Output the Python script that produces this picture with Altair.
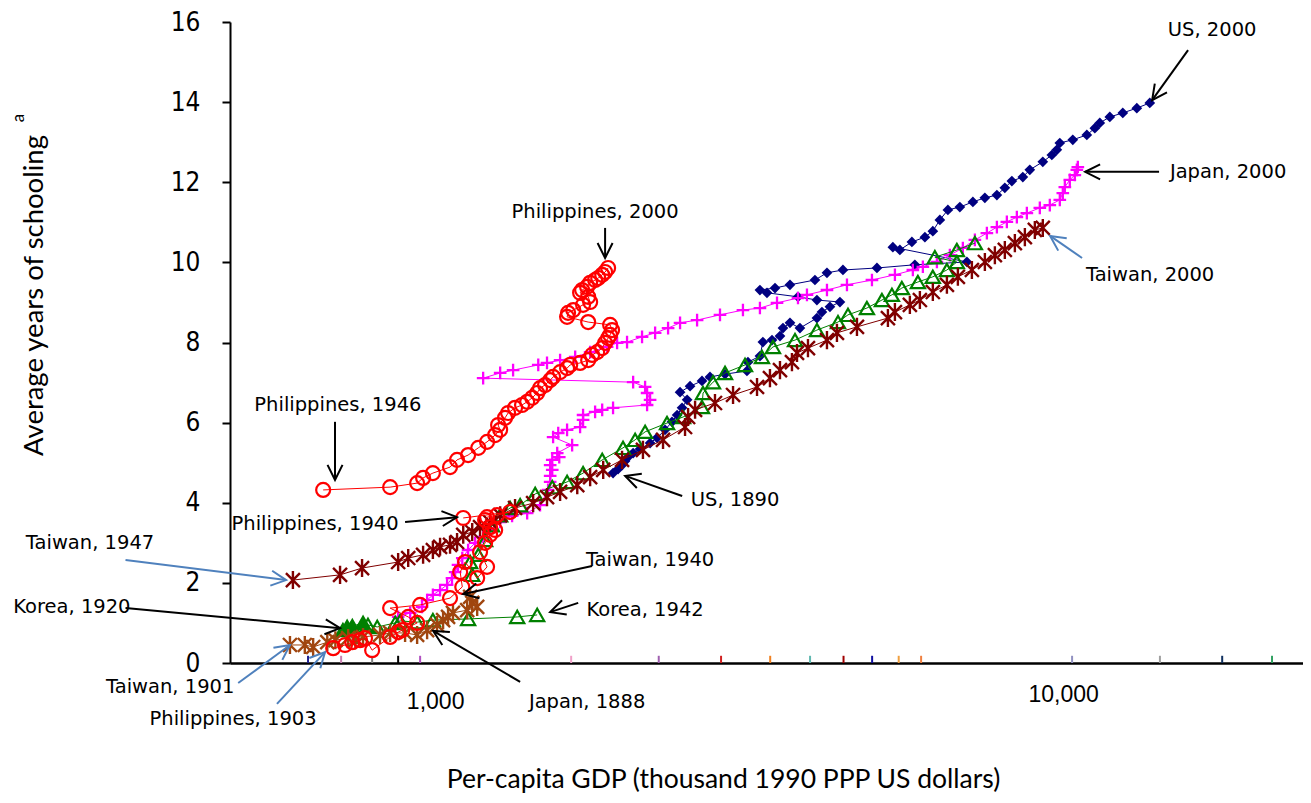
import math
import altair as alt
import pandas as pd

# ---------------- data (per-capita GDP, 1990 PPP $ ; average years of schooling) ----------------
us_gdp = [2084, 2120, 2149, 2171, 2193, 2232, 2285, 2365, 2422, 2489, 2549, 2594, 2638, 2684, 2620, 2711,
          2824, 2902, 3055, 3293, 3304, 3442, 3477, 3587, 3686, 3724, 3814, 3946, 4182, 4254, 4372, 4524,
          4182, 3920, 3526, 3442, 3624, 3814, 4154, 4328, 4571, 5134, 5844, 6981, 5421, 5552, 5785, 6048,
          6214, 6365, 6542, 6815, 7125, 7423, 7734, 7947, 8140, 8451, 8655, 9048, 9331, 9492, 9589, 10024,
          10516, 10808, 10993, 11375, 11891, 12475, 13040]
us_yrs = [4.74, 4.84, 4.94, 5.04, 5.14, 5.24, 5.34, 5.49, 5.62, 5.82, 6.02, 6.19, 6.37, 6.57, 6.76, 6.91,
          7.04, 7.14, 7.21, 7.29, 7.51, 7.66, 8.01, 8.06, 8.16, 8.36, 8.49, 8.36, 8.61, 8.76, 8.89, 9.01,
          9.06, 9.14, 9.24, 9.31, 9.36, 9.44, 9.56, 9.74, 9.81, 9.86, 9.94, 10.01, 10.38, 10.31, 10.51, 10.63,
          10.78, 11.06, 11.31, 11.38, 11.51, 11.61, 11.68, 11.86, 12.03, 12.13, 12.31, 12.51, 12.68, 12.81, 12.98, 13.06,
          13.18, 13.35, 13.48, 13.63, 13.73, 13.85, 13.98]

jp_gdp = [1000, 1042, 1085, 1104, 1126, 1154, 1182, 1202, 1215, 1227,
          1245, 1270, 1301, 1337, 1369, 1417, 1476, 1554, 1624, 1669,
          1681, 1681, 1693, 1681, 1693, 1734, 1722, 1812, 1698, 1728,
          1781, 1862, 1881, 1881, 1960, 2008, 2084, 2341, 2365, 2341,
          2325, 2232, 1337, 1417, 1481, 1614, 1663, 1739, 1831, 1927,
          2042, 2113, 2186, 2301, 2406, 2515, 2620, 2777, 3003, 3248,
          3442, 3649, 3920, 4042, 4328, 4634, 5047, 5459, 5804, 6006,
          6301, 6586, 6885, 7174, 7474, 7734, 8002, 8280, 8568, 8956,
          9267, 9589, 9688, 9755, 9922, 10094, 10163, 10198]
jp_yrs = [1.15, 1.25, 1.40, 1.57, 1.70, 1.82, 1.95, 2.12, 2.27, 2.45,
          2.62, 2.82, 3.00, 3.15, 3.32, 3.52, 3.67, 3.74, 3.94, 4.32,
          4.52, 4.67, 4.82, 4.94, 5.07, 5.14, 5.24, 5.44, 5.64, 5.74,
          5.82, 5.89, 6.07, 6.19, 6.27, 6.32, 6.37, 6.44, 6.57, 6.74,
          6.89, 7.01, 7.11, 7.24, 7.31, 7.44, 7.49, 7.56, 7.64, 7.76,
          7.89, 7.99, 8.01, 8.14, 8.24, 8.36, 8.49, 8.56, 8.69, 8.81,
          8.86, 8.99, 9.11, 9.19, 9.31, 9.44, 9.56, 9.69, 9.81, 9.89,
          10.01, 10.18, 10.36, 10.56, 10.73, 10.88, 11.01, 11.13, 11.23, 11.36,
          11.43, 11.56, 11.73, 11.88, 12.06, 12.18, 12.31, 12.38]

tw_pre_gdp = [691, 727, 748, 785, 807, 843, 864, 887, 940, 973, 1024, 1067, 1104, 1142, 1166, 1186,
              1206, 1266, 1310, 1288, 1279]
tw_pre_yrs = [0.45, 0.45, 0.40, 0.52, 0.57, 0.62, 0.57, 0.65, 0.70, 0.75, 0.75, 0.70, 0.82, 0.95, 1.07, 1.15,
              1.25, 1.32, 1.40, 1.50, 1.65]

tw_gdp = [698, 820, 884, 1000, 1035, 1089, 1126, 1154, 1194, 1223,
          1249, 1288, 1323, 1369, 1417, 1491, 1586, 1663, 1739, 1844,
          1927, 2015, 2149, 2308, 2472, 2665, 2693, 2758, 2952, 3140,
          3408, 3562, 3686, 3840, 3907, 4056, 4328, 4478, 4795, 5330,
          5459, 5745, 5945, 6214, 6520, 6769, 7101, 7423, 7681, 7947,
          8224, 8510, 8805, 9048]
tw_yrs = [2.07, 2.20, 2.37, 2.52, 2.62, 2.70, 2.82, 2.90, 2.95, 3.02,
          3.20, 3.27, 3.39, 3.52, 3.69, 3.87, 3.99, 4.14, 4.27, 4.44,
          4.64, 4.82, 5.07, 5.32, 5.57, 5.89, 6.14, 6.32, 6.49, 6.69,
          6.89, 7.11, 7.31, 7.51, 7.74, 7.86, 8.06, 8.24, 8.39, 8.61,
          8.76, 8.94, 9.06, 9.26, 9.44, 9.64, 9.81, 10.01, 10.18, 10.31,
          10.48, 10.63, 10.81, 10.86]

kr_pre_gdp = [828, 840, 855, 887, 902, 931, 990, 1007, 1067, 1126, 1270, 1502, 1608]
kr_pre_yrs = [0.82, 0.90, 0.92, 1.00, 0.95, 0.90, 1.00, 1.05, 1.02, 1.07, 1.10, 1.15, 1.20]
kr_pre_filled = 4  # the first few observations are drawn as solid triangles

kr_gdp = [1288, 1279, 1315, 1346, 1378, 1417, 1466, 1517, 1597, 1693,
          1781, 1881, 2008, 2156, 2247, 2325, 2506, 2647, 2824, 2834,
          2932, 3055, 3271, 3466, 3599, 3880, 4182, 4494, 4650, 4961,
          5222, 5403, 5590, 5905, 6214, 6520, 6746, 6257, 6746, 7174]
kr_yrs = [2.20, 2.52, 2.70, 3.07, 3.44, 3.69, 3.87, 3.94, 4.22, 4.39,
          4.52, 4.74, 5.07, 5.37, 5.57, 5.77, 5.99, 6.14, 6.39, 6.74,
          7.01, 7.24, 7.44, 7.64, 7.89, 8.06, 8.31, 8.51, 8.69, 8.86,
          9.06, 9.19, 9.36, 9.51, 9.64, 9.81, 10.01, 10.13, 10.31, 10.48]

ph_pre_gdp = [801, 834, 855, 878, 893, 915, 973, 1000, 1014, 1067,
              1035, 973, 1078, 1194, 1245, 1236, 1257, 1310, 1355, 1323,
              1346, 1369, 1393, 1369, 1346, 1355, 1402, 1466, 1249]
ph_pre_yrs = [0.37, 0.45, 0.52, 0.57, 0.62, 0.32, 0.65, 0.77, 0.82, 1.00,
              1.15, 1.37, 1.45, 1.62, 1.90, 2.27, 2.52, 2.12, 2.40, 2.77,
              3.00, 3.20, 3.32, 3.39, 3.57, 3.64, 3.69, 3.77, 3.62]

ph_gdp = [774, 973, 1067, 1089, 1126, 1194, 1223, 1270, 1315, 1355,
          1393, 1417, 1407, 1441, 1456, 1491, 1527, 1554, 1581, 1608,
          1624, 1652, 1681, 1698, 1739, 1781, 1800, 1862, 1914, 1940,
          1974, 2008, 2028, 2049, 2063, 2077, 2063, 1914, 1781, 1787,
          1819, 1881, 1927, 1914, 1862, 1875, 1907, 1927, 1960, 1981,
          2008, 2028, 2049]
ph_yrs = [4.32, 4.39, 4.49, 4.62, 4.74, 4.89, 5.07, 5.19, 5.37, 5.52,
          5.69, 5.82, 5.94, 6.12, 6.24, 6.37, 6.44, 6.52, 6.62, 6.74,
          6.86, 6.94, 7.06, 7.14, 7.26, 7.36, 7.44, 7.49, 7.56, 7.69,
          7.76, 7.86, 7.99, 8.11, 8.19, 8.31, 8.44, 8.51, 8.64, 8.74,
          8.81, 8.94, 9.01, 9.14, 9.24, 9.31, 9.39, 9.49, 9.56, 9.61,
          9.69, 9.76, 9.86]

# annotations: label position and arrow (start -> tip)
ann_text = ["US, 2000", "Japan, 2000", "Taiwan, 2000", "Philippines, 2000", "Philippines, 1946",
            "Philippines, 1940", "US, 1890", "Taiwan, 1947", "Taiwan, 1940", "Korea, 1920",
            "Korea, 1942", "Taiwan, 1901", "Philippines, 1903", "Japan, 1888"]
ann_gdp = [16135, 17040, 13055, 1960, 814, 753, 3162, 349, 2365, 328, 2325, 459, 569, 1907]
ann_yrs = [15.80, 12.26, 9.69, 11.26, 6.44, 3.47, 4.07, 3.00, 2.57, 1.40, 1.32, -0.60, -1.40, -0.97]
arr_gdp0 = [14862, 13460, 10347, 2028, 806, 1024, 2639, 394, 1940, 394, 1850, 579, 661, 1517]
arr_yrs0 = [15.30, 12.26, 10.11, 10.86, 6.02, 3.52, 4.17, 2.57, 2.42, 1.37, 1.50, -0.50, -1.02, -0.47]
arr_gdp1 = [13146, 10455, 9277, 2028, 806, 1223, 2172, 682, 1249, 820, 1681, 691, 779, 1127]
arr_yrs1 = [14.05, 12.26, 10.66, 10.11, 4.57, 3.64, 4.67, 2.07, 1.72, 0.87, 1.27, 0.45, 0.27, 0.80]
BLACK, BLUE = "#000000", "#4F81BD"
arr_col = [BLACK, BLACK, BLUE, BLACK, BLACK, BLACK, BLACK, BLUE, BLACK, BLACK, BLACK, BLUE, BLUE, BLACK]

# small coloured marks on the horizontal axis
tick_gdp = [735, 823, 915, 1000, 1078, 1806, 2436, 3014, 3565, 4085, 4580, 5050, 5530, 5970,
            10000, 13500, 16700, 19800]
tick_col = ["#1f1f8f", "#c87fb0", "#808080", "#000000", "#b050c0", "#f0a0c8", "#a060b0", "#d02020",
            "#f08020", "#60b8b0", "#a00000", "#1010a0", "#f0a040", "#f08040", "#9090c0", "#a0a0a0",
            "#103060", "#30a060"]

# ---------------- scales / axes ----------------
W, H = 1073, 641
XMIN, XMAX = 563, 22010
YMAX = 16

xscale = alt.Scale(type="log", domain=[XMIN, XMAX], nice=False)
yscale = alt.Scale(domain=[0, YMAX], nice=False, zero=False)

xaxis = alt.Axis(
    values=[1000, 10000], format=",", ticks=False, tickSize=0, grid=False,
    domainColor="black", domainWidth=2.5,
    labelFont="Liberation Sans", labelFontSize=23, labelColor="black",
    labelFlush=False, labelOverlap=False,
    labelOffset={"condition": {"test": "datum.value == 1000", "value": 37}, "value": -9},
    labelPadding={"condition": {"test": "datum.value == 1000", "value": 27}, "value": 20},
    title="Per-capita GDP (thousand 1990 PPP US dollars)",
    titleFont="Lato", titleFontSize=26.5, titleFontWeight="normal", titleColor="black",
    titleX=493, titleY=124, titleAlign="center", titleBaseline="alphabetic",
)
yaxis = alt.Axis(
    values=list(range(0, 17, 2)), grid=False,
    domainColor="black", domainWidth=2, tickColor="black", tickSize=8, tickWidth=2,
    labelFont="Liberation Sans Narrow, DejaVu Sans Condensed, sans-serif", labelFontSize=26,
    labelColor="black", labelPadding=22,
    title="Average years of schooling",
    titleFont="Lato", titleFontSize=27.5, titleFontWeight="normal", titleColor="black",
    titleAngle=270, titleX=-188, titleY=273, titleAlign="center", titleBaseline="alphabetic",
)
X = alt.X("gdp:Q", scale=xscale, axis=xaxis)
Y = alt.Y("yrs:Q", scale=yscale, axis=yaxis)

ASTERISK = "M-0.85,-0.85L0.85,0.85M-0.85,0.85L0.85,-0.85M0,-1.1L0,1.1"
PLUS = "M-1,0L1,0M0,-1L0,1"
CHEVRON = "M-1,-0.5L0,0L-1,0.5"


def frame(g, v):
    return pd.DataFrame({"gdp": g, "yrs": v, "i": list(range(len(g)))})


def series(g, v, color, shape, size, filled, sw=2.0, line=True):
    base = alt.Chart(frame(g, v)).encode(x=X, y=Y)
    out = []
    if line:
        out.append(base.mark_line(color=color, strokeWidth=1).encode(order="i:Q"))
    out.append(base.mark_point(shape=shape, size=size, filled=filled, color=color,
                               strokeWidth=sw, opacity=1))
    return out


layers = []

# axis marks
tick_df = pd.DataFrame({"gdp": tick_gdp, "yrs": [0] * len(tick_gdp), "yrs2": [0.18] * len(tick_gdp),
                        "col": tick_col})
layers.append(alt.Chart(tick_df).mark_rule(strokeWidth=2).encode(
    x=X, y=Y, y2="yrs2:Q", color=alt.Color("col:N", scale=None)))

# data series
layers += series(us_gdp, us_yrs, "#000080", "diamond", 115, True, sw=0.5)
layers += series(jp_gdp, jp_yrs, "#FF00FF", PLUS, 160, False, sw=2.3)
layers += series(kr_pre_gdp, kr_pre_yrs, "#008000", "triangle-up", 200, False, sw=2.2)
layers.append(alt.Chart(frame(kr_pre_gdp[:kr_pre_filled], kr_pre_yrs[:kr_pre_filled])).mark_point(
    shape="triangle-up", size=200, filled=True, color="#008000", opacity=1).encode(x=X, y=Y))
layers += series(kr_gdp, kr_yrs, "#008000", "triangle-up", 200, False, sw=2.2)
layers += series(tw_pre_gdp, tw_pre_yrs, "#A0460F", ASTERISK, 270, False, sw=2.4)
layers += series(tw_gdp, tw_yrs, "#800000", ASTERISK, 270, False, sw=2.4)
layers += series(ph_pre_gdp, ph_pre_yrs, "#FF0000", "circle", 195, False, sw=2.2)
layers += series(ph_gdp, ph_yrs, "#FF0000", "circle", 195, False, sw=2.2)

# arrows
lx0, lx1 = math.log10(XMIN), math.log10(XMAX)


def px(g):
    return W * (math.log10(g) - lx0) / (lx1 - lx0)


def py(v):
    return H * (1 - v / YMAX)


angles = [math.degrees(math.atan2(py(b1) - py(b0), px(a1) - px(a0))) % 360
          for a0, b0, a1, b1 in zip(arr_gdp0, arr_yrs0, arr_gdp1, arr_yrs1)]
arr_df = pd.DataFrame({"gdp": arr_gdp0, "yrs": arr_yrs0, "gdp2": arr_gdp1, "yrs2": arr_yrs1,
                       "col": arr_col})
head_df = pd.DataFrame({"gdp": arr_gdp1, "yrs": arr_yrs1, "ang": angles, "col": arr_col})
layers.append(alt.Chart(arr_df).mark_rule(strokeWidth=2).encode(
    x=X, y=Y, x2="gdp2:Q", y2="yrs2:Q", color=alt.Color("col:N", scale=None)))
layers.append(alt.Chart(head_df).mark_point(shape=CHEVRON, size=900, filled=False, strokeWidth=2,
                                            opacity=1).encode(
    x=X, y=Y, angle=alt.Angle("ang:Q", scale=None), color=alt.Color("col:N", scale=None)))

# annotation labels
ann_df = pd.DataFrame({"gdp": ann_gdp, "yrs": ann_yrs, "label": ann_text})
layers.append(alt.Chart(ann_df).mark_text(font="DejaVu Sans", fontSize=19.5, color="black",
                                           align="center", baseline="middle").encode(
    x=X, y=Y, text="label:N"))

# superscript "a" of the vertical axis title
sup_df = pd.DataFrame({"gdp": [274], "yrs": [13.6], "label": ["a"]})
layers.append(alt.Chart(sup_df).mark_text(font="Lato", fontSize=17, color="black", angle=270,
                                           align="center", baseline="middle").encode(
    x=X, y=Y, text="label:N"))

chart = alt.layer(*layers).properties(
    width=W, height=H,
    padding={"left": 222, "top": 14, "right": 0, "bottom": 130},
    autosize=alt.AutoSizeParams(type="none"),
).configure_view(stroke=None)

chart.save("out.html", embed_options={"renderer": "svg", "actions": False})
